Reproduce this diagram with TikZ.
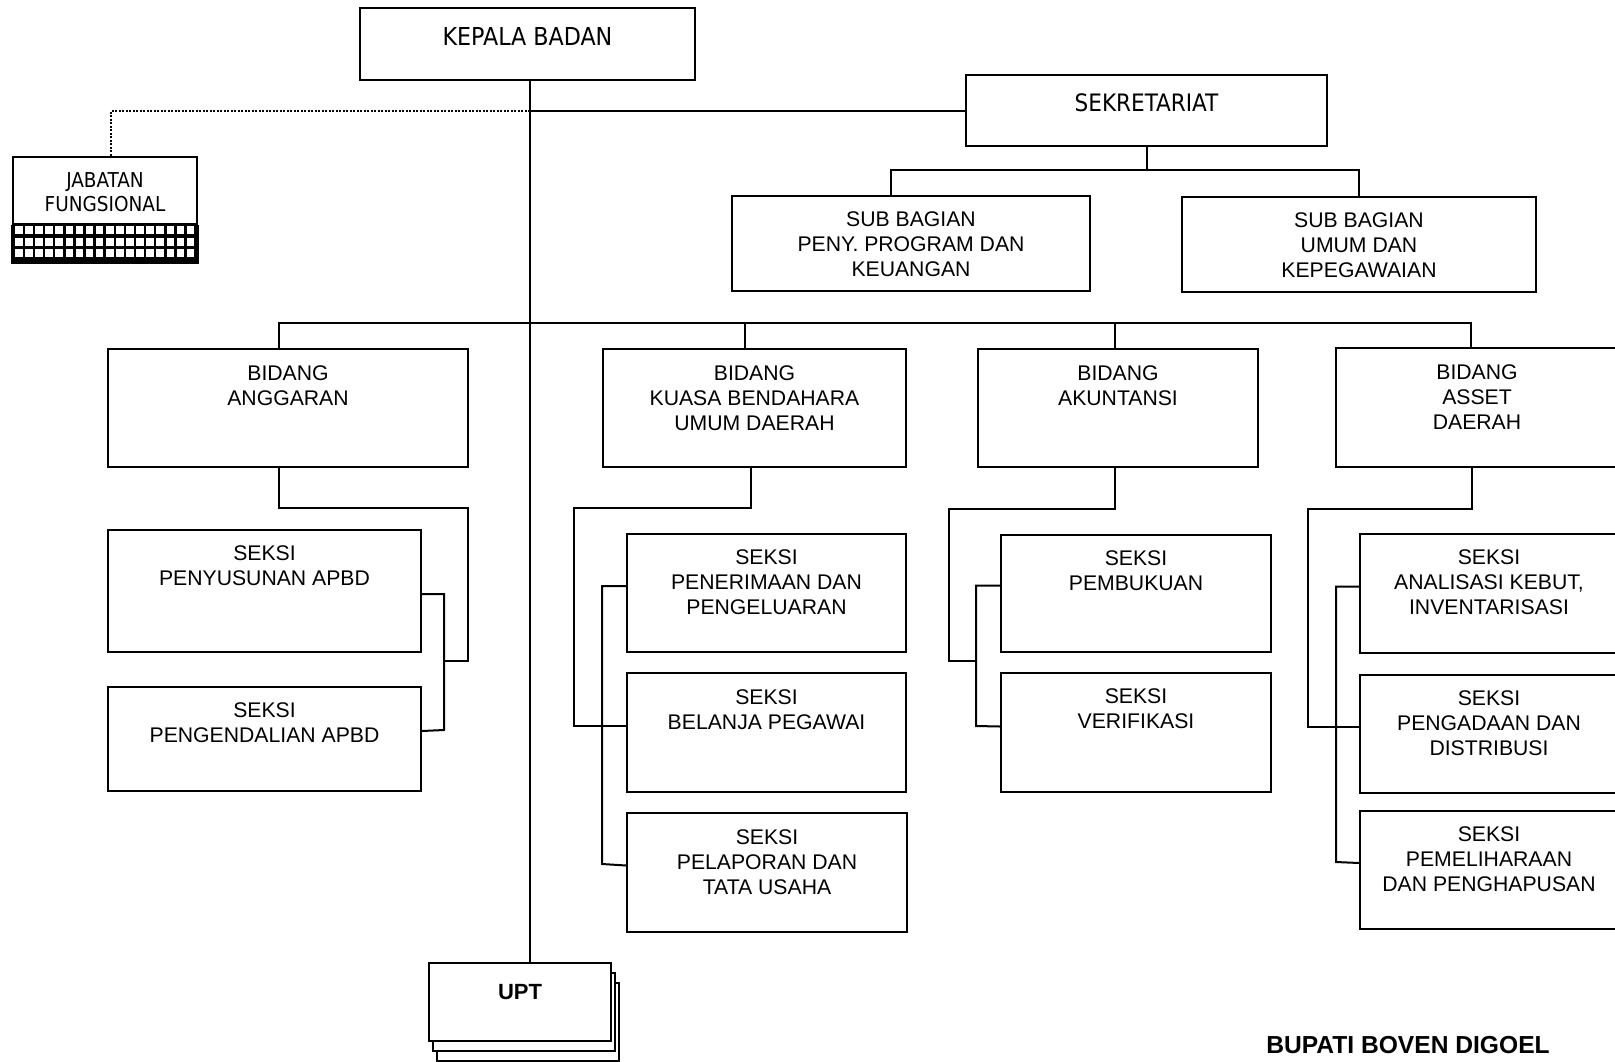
\documentclass[tikz,border=0pt]{standalone}
\usepackage{fontspec}
\setmainfont{Liberation Sans}
\newfontfamily\condf{DejaVu Sans Condensed}

\tikzset{
  unit/.style={draw, line width=2pt, fill=white, anchor=north west, align=center,
    inner sep=0pt, font=\fontsize{21.2}{25}\selectfont},
  sz/.style n args={3}{minimum width=#1pt, text height=#2pt, text depth=#3pt},
  link/.style={line width=2pt},
}

\begin{document}
\begin{tikzpicture}[x=1pt, y=-1pt]
  \useasboundingbox (0,0) rectangle (1615,1061);
  \clip (0,0) rectangle (1615,1061);

  % pimpinan dan sekretariat
  \node[unit, sz={335}{37}{35}, font=\condf\fontsize{24.7}{30}\selectfont] (kepala) at (359,7) {KEPALA BADAN};
  \node[unit, sz={361}{36}{35}, font=\condf\fontsize{24}{30}\selectfont] (sekr) at (965,74) {SEKRETARIAT};
  \node[unit, sz={358}{80}{15}] (sub1) at (731,195) {SUB BAGIAN\\PENY. PROGRAM DAN\\KEUANGAN};
  \node[unit, sz={354}{80}{15}] (sub2) at (1181,196) {SUB BAGIAN\\UMUM DAN\\KEPEGAWAIAN};

  % jabatan fungsional
  \node[unit, sz={184}{54}{13}, font=\condf\fontsize{20.5}{24}\selectfont] (jab) at (12,156) {JABATAN\\FUNGSIONAL};
  \fill[black] ([xshift=-1pt]jab.south west) rectangle ([xshift=1pt,yshift=-39pt]jab.south east);
  \foreach \i in {0,...,17}
    \foreach \j in {0,1,2}
      \fill[white] (15+\i*10.1, 226+\j*11.5) rectangle ++(7.6,8.3);

  % bidang
  \node[unit, sz={360}{56}{62}] (ang) at (107,348) {BIDANG\\ANGGARAN};
  \node[unit, sz={303}{81}{37}] (kb) at (602,348) {BIDANG\\KUASA BENDAHARA\\UMUM DAERAH};
  \node[unit, sz={280}{56}{62}] (kt) at (977,348) {BIDANG\\AKUNTANSI};
  \node[unit, sz={282}{81}{38}] (as) at (1335,347) {BIDANG\\ASSET\\DAERAH};

  % seksi
  \node[unit, sz={313}{55}{67}] (ang1) at (107,529) {SEKSI\\PENYUSUNAN APBD};
  \node[unit, sz={313}{55}{49}] (ang2) at (107,686) {SEKSI\\PENGENDALIAN APBD};
  \node[unit, sz={279}{80}{38}] (kb1) at (626,533) {SEKSI\\PENERIMAAN DAN\\PENGELUARAN};
  \node[unit, sz={279}{56}{63}] (kb2) at (626,672) {SEKSI\\BELANJA PEGAWAI};
  \node[unit, sz={280}{81}{38}] (kb3) at (626,812) {SEKSI\\PELAPORAN DAN\\TATA USAHA};
  \node[unit, sz={270}{55}{62}] (kt1) at (1000,534) {SEKSI\\PEMBUKUAN};
  \node[unit, sz={270}{55}{64}] (kt2) at (1000,672) {SEKSI\\VERIFIKASI};
  \node[unit, sz={258}{80}{39}] (as1) at (1359,533) {SEKSI\\ANALISASI KEBUT,\\INVENTARISASI};
  \node[unit, sz={258}{80}{38}] (as2) at (1359,674) {SEKSI\\PENGADAAN DAN\\DISTRIBUSI};
  \node[unit, sz={258}{80}{38}] (as3) at (1359,810) {SEKSI\\PEMELIHARAAN\\DAN PENGHAPUSAN};

  % upt
  \foreach \k in {2,1}
    \draw[link, fill=white] (428+\k*4.5, 962+\k*10.5) rectangle ++(182,78);
  \node[unit, sz={182}{36}{42}, font=\bfseries\fontsize{22}{26}\selectfont] (upt) at (428,962) {UPT};

  \node[inner sep=0pt, font=\bfseries\fontsize{24.6}{28}\selectfont] (bupati) at (1408,1045) {BUPATI BOVEN DIGOEL};

  % garis
  \coordinate (spine) at (530,0);
  \coordinate (bus) at (530,323);
  \draw[link] (kepala.south -| spine) -- (upt.north -| spine);
  \draw[link] (sekr.west -| spine) -- (sekr.west);
  \draw[link, dash pattern=on 2pt off 1.5pt] (sekr.west -| spine) -| ([xshift=6pt]jab.north);

  \draw[link] (sekr.south) -- ++(0,23) coordinate (sekbus);
  \draw[link] ([xshift=-20pt]sub1.north) |- (sekbus) -| (sub2.north);

  \draw[link] ([xshift=-9pt]ang.north) |- (bus) -| ([xshift=-6pt]as.north);
  \draw[link] ([xshift=-9.5pt]kb.north) -- ([xshift=-9.5pt]kb.north |- bus);
  \draw[link] ([xshift=-3pt]kt.north) -- ([xshift=-3pt]kt.north |- bus);

  \draw[link] ([xshift=-9pt]ang.south) |- (468,508) |- (444,661);
  \draw[link] ([yshift=-3pt]ang1.east) -| (444,730) -- ([yshift=8pt]ang2.east);

  \draw[link] ([xshift=-3.5pt]kb.south) |- (574,508) |- ([yshift=7pt]kb2.west);
  \draw[link] ([yshift=7pt]kb1.west) -| (602,864) -- ([yshift=7pt]kb3.west);

  \draw[link] ([xshift=-3pt]kt.south) |- (949,509) |- (976,661);
  \draw[link] ([yshift=8pt]kt1.west) -| (976,726) -- ([yshift=6pt]kt2.west);

  \draw[link] ([xshift=-5pt]as.south) |- (1308,509) |- ([yshift=7pt]as2.west);
  \draw[link] ([yshift=7pt]as1.west) -| (1336,862) -- ([yshift=7pt]as3.west);
\end{tikzpicture}
\end{document}
